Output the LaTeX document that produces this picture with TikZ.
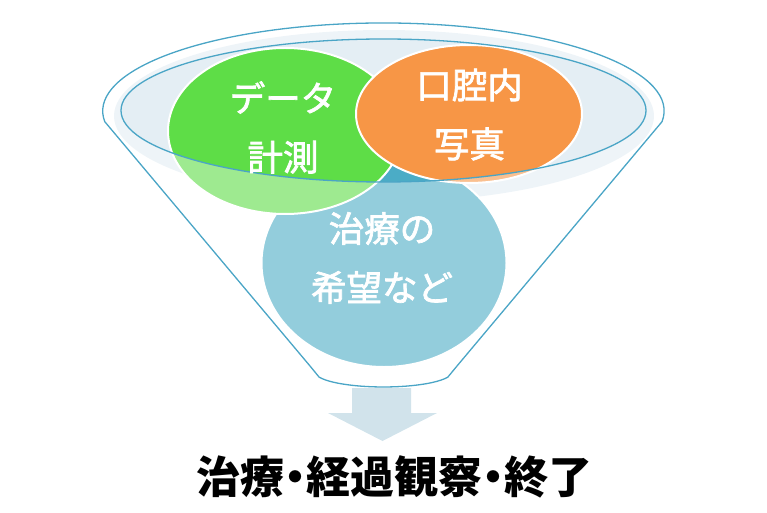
\documentclass[tikz,border=0pt]{standalone}
\usepackage{fontspec}
\newfontfamily\jp{Noto Sans CJK JP}
\newfontfamily\jpm[FakeBold=2]{Noto Sans CJK JP}
\usetikzlibrary{shapes.geometric}
\definecolor{cgreen}{HTML}{5EDD47}
\definecolor{corange}{HTML}{F79646}
\definecolor{cblue}{HTML}{4BACC6}
\definecolor{crim}{HTML}{E4EEF4}
\definecolor{cline}{HTML}{4AA5C6}
\definecolor{carrow}{HTML}{D1E3EB}
\tikzset{
  bubble/.style={ellipse, draw=white, line width=2pt, inner sep=0pt},
  bubbletext/.style={text=white, align=center, inner sep=0pt, font=\jpm\fontsize{35.5}{59}\selectfont},
  funnelline/.style={draw=cline, line width=1.3pt},
}
\def\funnelpath{(104.8,390.3) -- (310,146) .. controls (315,140) .. (319.1,134.9)
  arc[start angle=200, end angle=340, x radius=68.5, y radius=15]
  .. controls (452,140) .. (457,146)
  -- (662,390.3) arc[start angle=-7, end angle=187, x radius=280.7, y radius=88] -- cycle}
\begin{document}
\begin{tikzpicture}[x=1pt,y=1pt]
\useasboundingbox (0,0) rectangle (767,512);
% rim light fill
\fill[crim] (384,396) ellipse [x radius=270, y radius=86];
% bubbles
\node[bubble, fill=cblue, minimum width=245pt, minimum height=208pt] (b) at (384,249) {};
\node[bubble, fill=cgreen, minimum width=234pt, minimum height=166pt] (g) at (285,381) {};
\node[bubble, fill=corange, minimum width=226pt, minimum height=138pt] (o) at (469,398) {};
% translucent funnel body
\fill[white, opacity=0.4, even odd rule] \funnelpath
  (383.5,401.5) ellipse [x radius=262.5, y radius=71.5];
% funnel outlines
\draw[funnelline] \funnelpath;
\draw[funnelline] (383.5,401.5) ellipse [x radius=262.5, y radius=71.5];
% texts
\node[bubbletext] (gt) at (283,384.5) {データ\\計測};
\node[bubbletext] (ot) at (469.5,397.5) {口腔内\\写真};
\node[bubbletext] (bt) at (382,254) {治療の\\希望など};
% arrow
\fill[carrow] (352,124) -- (411,124) -- (411,99) -- (437,99) -- (382.5,71) -- (328,99) -- (352,99) -- cycle;
\node[inner sep=0pt, font=\jp\bfseries\fontsize{44}{50}\selectfont] (res) at (394,35)
  {治療\makebox[0.5em]{・}経過観察\makebox[0.5em]{・}終了};
\end{tikzpicture}
\end{document}
